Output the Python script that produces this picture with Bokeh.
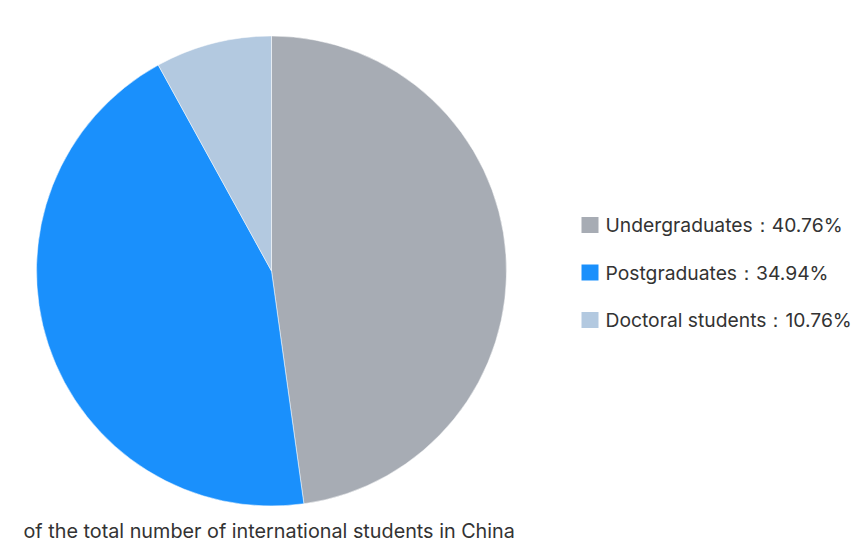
from math import pi
from bokeh.plotting import figure
from bokeh.models import Range1d, ColumnDataSource
from bokeh.core.properties import value
from bokeh.embed import file_html
from bokeh.resources import INLINE

categories = ["Undergraduates", "Postgraduates", "Doctoral students"]
labels = ["40.76%", "34.94%", "10.76%"]
shares = [47.8, 44.2, 8.0]
colors = ["#a7acb4", "#1a90fc", "#b3c9e0"]
caption = "of the total number of international students in China"

W, H = 861, 541
p = figure(width=W, height=H, output_backend="svg", toolbar_location=None,
           x_range=Range1d(0, W), y_range=Range1d(0, H), min_border=0)
p.axis.visible = False
p.grid.visible = False
p.outline_line_color = None
p.background_fill_color = "white"


def sy(y):
    return H - y


total = sum(shares)
starts, ends = [], []
cum = 0.0
for s in shares:
    starts.append(pi / 2 - 2 * pi * cum / total)
    cum += s
    ends.append(pi / 2 - 2 * pi * cum / total)

cx, cy, r = 271, sy(270.5), 235
src = ColumnDataSource(dict(start=starts, end=ends, color=colors))
p.wedge(x=cx, y=cy, radius=r, start_angle="start", end_angle="end",
        direction="clock", fill_color="color", line_color="white", line_width=0.5,
        source=src)

FONT = value("Inter")

# legend
lx, ly0, dy = 581, 224.5, 47.5
leg_y = [sy(ly0 + i * dy) for i in range(len(categories))]
leg_text = [f"{c}：{l}" for c, l in zip(categories, labels)]
lsrc = ColumnDataSource(dict(x=[lx + 8.5] * 3, y=leg_y, color=colors,
                             tx=[lx + 24] * 3, t=leg_text))
p.rect(x="x", y="y", width=17, height=16, fill_color="color", line_color=None, source=lsrc)
p.text(x="tx", y="y", text="t", text_font=FONT, text_font_size="19.3px",
       text_color="#333333", text_baseline="middle", text_align="left", source=lsrc)

p.text(x=[23], y=[sy(530)], text=[caption], text_font=FONT,
       text_font_size="19.8px", text_color="#333333", text_baseline="middle", text_align="left")

open("out.html", "w").write(file_html(p, INLINE))
